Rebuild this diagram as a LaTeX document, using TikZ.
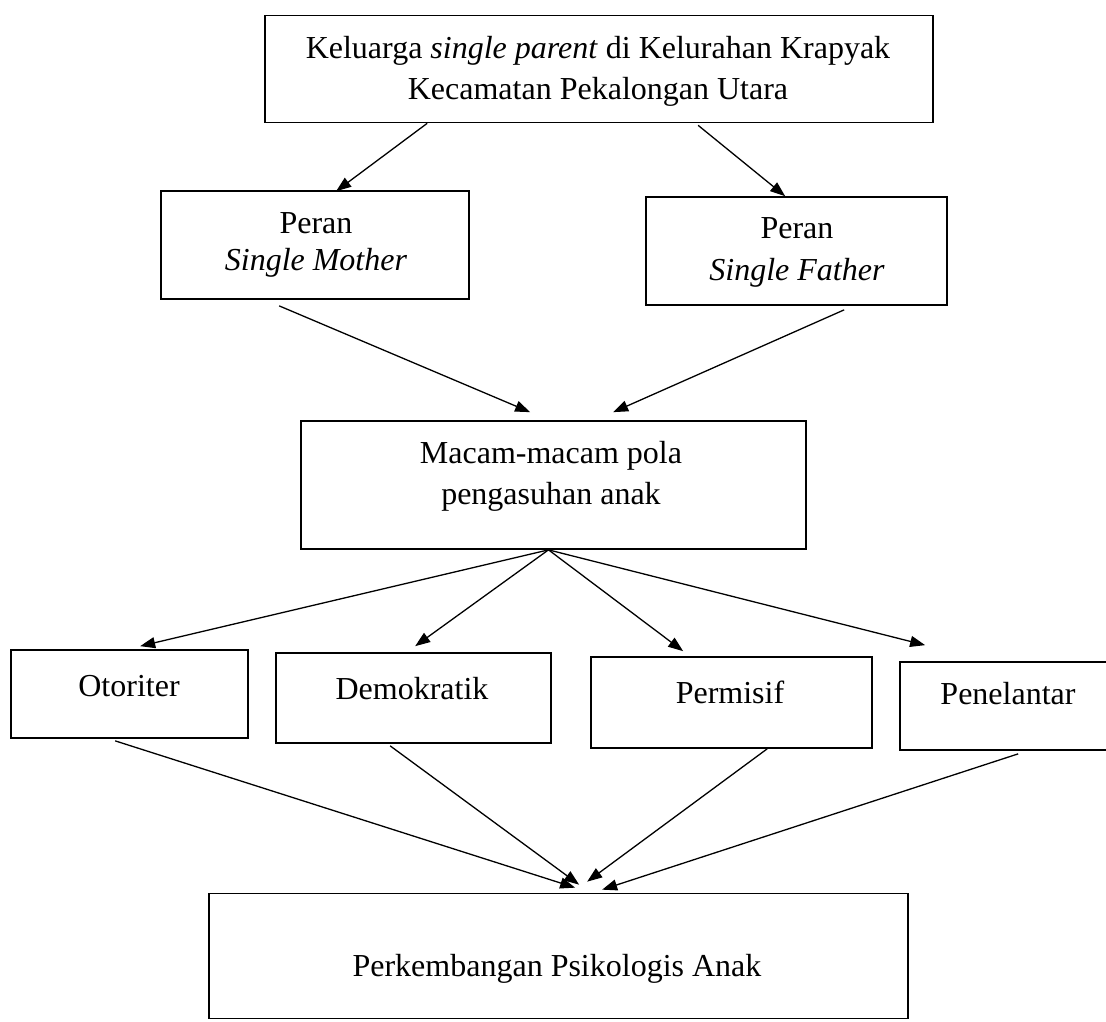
\documentclass[tikz,border=0pt]{standalone}
\usepackage{fontspec}
\setmainfont{Liberation Serif}
\usetikzlibrary{arrows.meta,calc}
\begin{document}
\begin{tikzpicture}[x=1pt,y=-1pt,
  box/.style={draw,line width=1.7pt,inner sep=0pt},
  txt/.style={inner sep=0pt,align=center,font=\fontsize{32}{41}\selectfont},
  arr/.style={line width=1.3pt,-{Triangle[length=15pt,width=11pt]}}]
\clip (0,0) rectangle (1106,1021);
\fill[white] (0,0) rectangle (1106,1021);
% boxes
\node[box,minimum width=668pt,minimum height=107pt] (top) at (599,69) {};
\node[box,minimum width=308pt,minimum height=108pt] (mother) at (315,245) {};
\node[box,minimum width=301pt,minimum height=108pt] (father) at (796.5,251) {};
\node[box,minimum width=505pt,minimum height=128pt] (macam) at (553.5,485) {};
\node[box,minimum width=237pt,minimum height=88pt] (otoriter) at (129.5,694) {};
\node[box,minimum width=275pt,minimum height=90pt] (demokratik) at (413.5,698) {};
\node[box,minimum width=281pt,minimum height=91pt] (permisif) at (731.5,702.5) {};
\node[box,minimum width=215pt,minimum height=88pt] (penelantar) at (1007.5,706) {};
\node[box,minimum width=699pt,minimum height=125pt] (bottom) at (558.5,956) {};
% texts
\node[txt] (toptext) at (598,71) {Keluarga \textit{single parent} di Kelurahan Krapyak\\Kecamatan Pekalongan Utara};
\node[txt,font=\fontsize{32}{37}\selectfont] (mothertext) at (316,245) {Peran\\\textit{Single Mother}};
\node[txt,font=\fontsize{32}{42}\selectfont] (fathertext) at (797,252) {Peran\\\textit{Single Father}};
\node[txt] (macamtext) at (551,476) {Macam-macam pola\\pengasuhan anak};
\node[txt,anchor=base] (otoritertext) at (129,696) {Otoriter};
\node[txt,anchor=base] (demokratiktext) at (412,699) {Demokratik};
\node[txt,anchor=base] (permisiftext) at (730,703) {Permisif};
\node[txt,anchor=base] (penelantartext) at (1008,704) {Penelantar};
\node[txt,anchor=base] (bottomtext) at (557,976) {Perkembangan Psikologis Anak};
% arrows
\draw[arr] ($(top.south west)+(163,0)$) -- ($(mother.north west)+(176,1)$);
\draw[arr] ($(top.south west)+(434,2)$) -- ($(father.north west)+(140,0)$);
\draw[arr] ($(mother.south west)+(119,6)$) -- ($(macam.north west)+(230,-8)$);
\draw[arr] ($(father.south west)+(199,4)$) -- ($(macam.north west)+(313,-8)$);
\draw[arr] ($(macam.south)+(-5,0)$) -- ($(otoriter.north west)+(130,-3)$);
\draw[arr] ($(macam.south)+(-5,0)$) -- ($(demokratik.north west)+(140,-6)$);
\draw[arr] ($(macam.south)+(-5,0)$) -- ($(permisif.north west)+(93,-5)$);
\draw[arr] ($(macam.south)+(-5,0)$) -- ($(penelantar.north west)+(26,-16)$);
\draw[arr] ($(otoriter.south west)+(105,2)$) -- ($(bottom.north west)+(367,-5)$);
\draw[arr] ($(demokratik.south west)+(115,2)$) -- ($(bottom.north west)+(371,-8)$);
\draw[arr] ($(permisif.south west)+(177,0)$) -- ($(bottom.north west)+(379,-11)$);
\draw[arr] ($(penelantar.south west)+(119,3)$) -- ($(bottom.north west)+(394,-3)$);
\end{tikzpicture}
\end{document}
